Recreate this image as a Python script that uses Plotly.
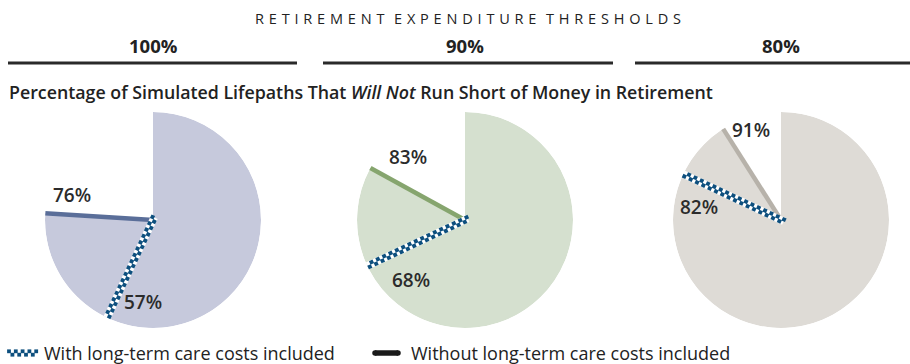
import math
import plotly.graph_objects as go

# ---- data ----
thresholds = ["100%", "90%", "80%"]
with_ltc = [57, 68, 82]
without_ltc = [76, 83, 91]
fill_colors = ["#c6c9dc", "#d5e0cf", "#dedbd6"]
line_colors = ["#5a6e99", "#86a56e", "#b7b2aa"]
checker_color = "#0d4f7e"
header = "RETIREMENT EXPENDITURE THRESHOLDS"
subtitle = "Percentage of Simulated Lifepaths That <i>Will Not</i> Run Short of Money in Retirement"
legend_labels = ["With long-term care costs included", "Without long-term care costs included"]

W, H = 910, 364
centers = [(153, 220), (465, 220), (781, 220)]
R = 108
FONT = "Open Sans"
CELL = 3.5

fig = go.Figure()


def deg(p):
    return p * 3.6


def checker_polar(theta, t0, t1, cell=CELL):
    rs, ths = [], []
    n = int((t1 - t0) / cell)
    for k in range(n + 1):
        t = t0 + k * cell
        s = cell / 2 if k % 2 == 0 else -cell / 2
        rs.append(math.hypot(t, s) / R)
        ths.append(theta + math.degrees(math.atan2(s, t)))
    return rs, ths


for i in range(3):
    sub = "polar" if i == 0 else f"polar{i+1}"
    # filled sector up to the "without" value
    fig.add_trace(go.Barpolar(
        r=[1], theta=[deg(without_ltc[i]) / 2], width=[deg(without_ltc[i])], base=0,
        marker=dict(color=fill_colors[i], line=dict(width=0)),
        hoverinfo="skip", showlegend=False, subplot=sub))
    # solid line (without LTC)
    fig.add_trace(go.Scatterpolar(
        r=[0, 110 / R], theta=[deg(without_ltc[i])] * 2, mode="lines+markers",
        line=dict(color=line_colors[i], width=4.5), cliponaxis=False,
        marker=dict(size=[0, 4.5], color=line_colors[i], line=dict(width=0)),
        hoverinfo="skip", showlegend=False, subplot=sub))
    # checker line (with LTC)
    th = deg(with_ltc[i])
    fig.add_trace(go.Scatterpolar(
        r=[3 / R, 112 / R], theta=[th + 180, th], mode="lines",
        line=dict(color="white", width=7.5), cliponaxis=False,
        hoverinfo="skip", showlegend=False, subplot=sub))
    rs, ths = checker_polar(th, -2.5, 112)
    fig.add_trace(go.Scatterpolar(
        r=rs, theta=ths, mode="markers", cliponaxis=False,
        marker=dict(symbol="square", size=3.9, color=checker_color, angle=th, line=dict(width=0)),
        hoverinfo="skip", showlegend=False, subplot=sub))

polar_common = dict(
    bgcolor="rgba(0,0,0,0)", hole=0,
    radialaxis=dict(range=[0, 1], visible=False, showgrid=False, showline=False, showticklabels=False, ticks=""),
    angularaxis=dict(rotation=90, direction="clockwise", visible=False, showgrid=False,
                     showline=False, showticklabels=False, ticks=""),
    barmode="overlay",
)
layout_polars = {}
for i in range(3):
    cx, cy = centers[i]
    key = "polar" if i == 0 else f"polar{i+1}"
    layout_polars[key] = dict(
        domain=dict(x=[(cx - R) / W, (cx + R) / W], y=[1 - (cy + R) / H, 1 - (cy - R) / H]),
        **polar_common)

# value labels
label_pos_without = [(72, 195), (408, 157), (751, 130)]
label_pos_with = [(143, 302), (411, 280), (699, 207)]
for i in range(3):
    for (x, y), v in ((label_pos_without[i], without_ltc[i]), (label_pos_with[i], with_ltc[i])):
        fig.add_annotation(x=x, y=y, xref="x", yref="y", text=f"{v}%", showarrow=False,
                           font=dict(family=FONT, size=19, color="#2b2b2b", weight=600))

# header
spaced = "\u2009\u2009\u2009\u2009".join("\u2009\u2009".join(list(w)) for w in header.split(" "))
fig.add_annotation(x=468, y=18, xref="x", yref="y", text=spaced, showarrow=False,
                   font=dict(family=FONT, size=14.5, color="#222222", weight=500))
col_spans = [(8, 297), (323, 613), (635, 910)]
for i, (x0, x1) in enumerate(col_spans):
    fig.add_annotation(x=centers[i][0], y=45, xref="x", yref="y", text=thresholds[i],
                       showarrow=False, font=dict(family=FONT, size=18.5, color="#222222", weight=700))
    fig.add_shape(type="line", x0=x0, x1=x1, y0=63, y1=63, xref="x", yref="y",
                  line=dict(color="#2a2a2a", width=3))

fig.add_annotation(x=7, y=92, xref="x", yref="y", xanchor="left", text=subtitle,
                   showarrow=False, font=dict(family=FONT, size=17.8, color="#222222", weight=600))

# legend
lx = [9 + k * 3.4 for k in range(9)]
ly = [353 + (-1.7 if k % 2 == 0 else 1.7) for k in range(9)]
fig.add_trace(go.Scatter(x=lx, y=ly, mode="markers",
                         marker=dict(symbol="square", size=3.8, color=checker_color, line=dict(width=0)),
                         hoverinfo="skip", showlegend=False))
fig.add_annotation(x=42, y=353, xref="x", yref="y", xanchor="left", text=legend_labels[0],
                   showarrow=False, font=dict(family=FONT, size=18, color="#222222"))
fig.add_trace(go.Scatter(x=[375, 398], y=[353, 353], mode="lines+markers",
                         line=dict(color="#1a1a1a", width=5.5),
                         marker=dict(size=5.5, color="#1a1a1a", line=dict(width=0)),
                         hoverinfo="skip", showlegend=False))
fig.add_annotation(x=409, y=353, xref="x", yref="y", xanchor="left", text=legend_labels[1],
                   showarrow=False, font=dict(family=FONT, size=18, color="#222222"))

fig.update_layout(
    width=W, height=H, margin=dict(l=0, r=0, t=0, b=0),
    paper_bgcolor="white", plot_bgcolor="rgba(0,0,0,0)",
    xaxis=dict(range=[0, W], visible=False, fixedrange=True),
    yaxis=dict(range=[H, 0], visible=False, fixedrange=True),
    showlegend=False,
    **layout_polars,
)
fig.write_html("out.html")
